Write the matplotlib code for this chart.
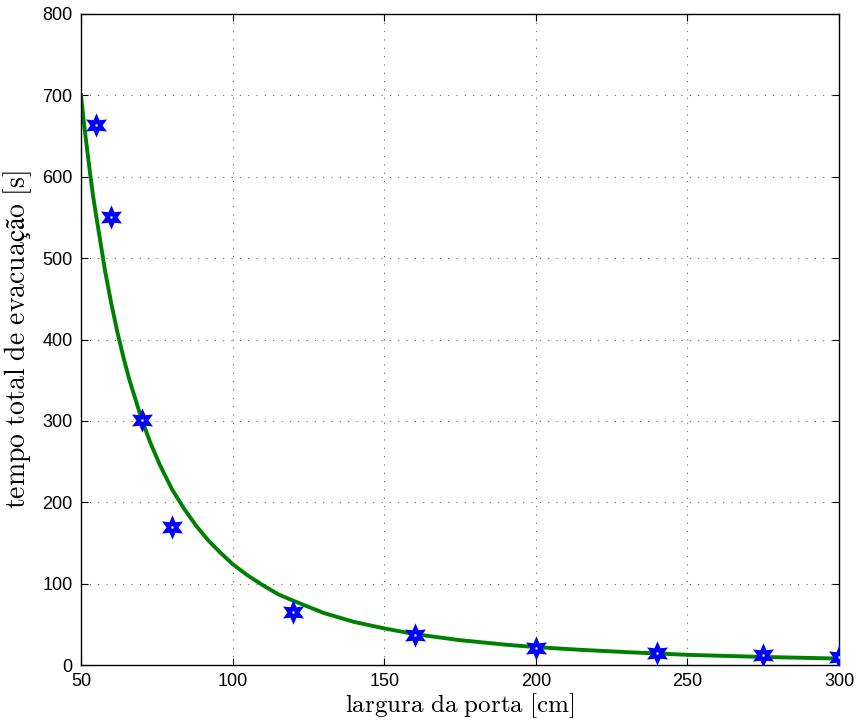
import matplotlib.pyplot as plt
from matplotlib.markers import MarkerStyle
import numpy as np

# medicoes (largura da porta em cm, tempo em s)
largura = [55, 60, 70, 80, 120, 160, 200, 240, 275, 300]
tempo = [663, 551, 301, 170, 65, 37, 21, 15, 12, 10]

# curva ajustada
curva_x = [50, 51, 52, 53, 54, 55, 56, 58, 60, 62, 64, 66, 68, 70, 73, 76, 80,
           84, 88, 92, 96, 100, 105, 110, 115, 120, 130, 140, 150, 160, 175,
           190, 200, 215, 230, 250, 275, 300]
curva_y = [700, 665, 634, 604, 576, 552, 529, 483, 444, 409, 378, 350, 326,
           302, 272, 246, 216, 192, 171, 153, 138, 124, 110, 98, 87, 79, 64,
           53, 45, 38, 30.5, 25, 22, 18.6, 15.8, 12.5, 9.9, 7.9]

x_ticks = [50, 100, 150, 200, 250, 300]
y_ticks = [0, 100, 200, 300, 400, 500, 600, 700, 800]

plt.rcParams['font.family'] = ['Liberation Sans', 'DejaVu Sans']
plt.rcParams['mathtext.fontset'] = 'cm'

fig = plt.figure(figsize=(8.57, 7.24), dpi=100)
ax = fig.add_axes([81/857, 59/724, 758/857, 651/724])

ax.plot(curva_x, curva_y, color='#008000', linewidth=2.8, zorder=2)
# estrela de 6 pontas (hexagrama) com cantos vivos
estrela = MarkerStyle((6, 1, 0), joinstyle='miter')
ax.plot(largura, tempo, linestyle='none', marker=estrela, markersize=10,
        markerfacecolor='white', markeredgecolor='#0000ff',
        markeredgewidth=3.0, zorder=3)

ax.set_xlim(50, 300)
ax.set_ylim(0, 800)
ax.set_xticks(x_ticks)
ax.set_yticks(y_ticks)
ax.tick_params(direction='in', top=True, right=True, labelsize=13,
               length=5, width=0.8, pad=6)
ax.grid(True, linestyle=(0, (1, 6.5)), color='#666666', linewidth=0.8)
for s in ax.spines.values():
    s.set_linewidth(1.0)

ax.set_xlabel(r'$\mathrm{largura\ da\ porta\ [cm]}$', fontsize=18, labelpad=1)
ax.set_ylabel(r'$\mathrm{tempo\ total\ de\ evacuação\ [s]}$', fontsize=20,
              labelpad=6)

plt.savefig('out.png', dpi=100)
